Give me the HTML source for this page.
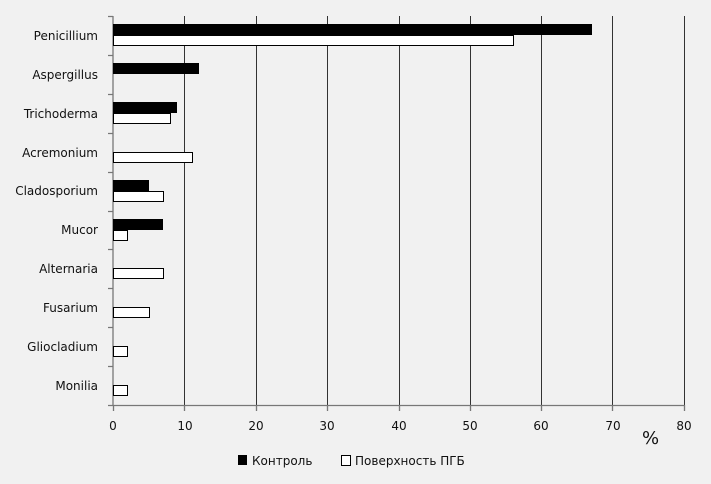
<!DOCTYPE html><html><head><style>body{margin:0;background:#f1f1f1}svg{display:block}text{font-family:"DejaVu Sans","Liberation Sans",sans-serif;font-size:12px;fill:#111}</style></head><body>
<svg width="711" height="484" viewBox="0 0 711 484">
<rect width="711" height="484" fill="#f1f1f1"/>
<g stroke="#333" stroke-width="1">
<line x1="184.5" y1="16" x2="184.5" y2="405"/><line x1="256.5" y1="16" x2="256.5" y2="405"/><line x1="327.5" y1="16" x2="327.5" y2="405"/><line x1="399.5" y1="16" x2="399.5" y2="405"/><line x1="470.5" y1="16" x2="470.5" y2="405"/><line x1="541.5" y1="16" x2="541.5" y2="405"/><line x1="612.5" y1="16" x2="612.5" y2="405"/><line x1="684.5" y1="16" x2="684.5" y2="405"/>
</g>
<g stroke="#777" stroke-width="1.3">
<line x1="113" y1="16" x2="113" y2="406"/><line x1="113" y1="405.5" x2="685" y2="405.5"/>
<path d="M108 16.5H113M108 55.5H113M108 94.5H113M108 133.5H113M108 172.5H113M108 211.5H113M108 249.5H113M108 288.5H113M108 327.5H113M108 366.5H113M108 405.5H113"/>
<path d="M113.5 405V411M184.5 405V411M256.5 405V411M327.5 405V411M399.5 405V411M470.5 405V411M541.5 405V411M612.5 405V411M684.5 405V411"/>
</g>
<g fill="#000">
<rect x="113" y="24" width="479" height="11"/>
<rect x="113" y="63" width="86" height="11"/>
<rect x="113" y="102" width="64" height="11"/>
<rect x="113" y="180" width="36" height="11"/>
<rect x="113" y="219" width="50" height="11"/>
</g>
<g fill="#fff" stroke="#000" stroke-width="1">
<rect x="113.5" y="35.5" width="400" height="10"/>
<rect x="113.5" y="113.5" width="57" height="10"/>
<rect x="113.5" y="152.5" width="79" height="10"/>
<rect x="113.5" y="191.5" width="50" height="10"/>
<rect x="113.5" y="230.5" width="14" height="10"/>
<rect x="113.5" y="268.5" width="50" height="10"/>
<rect x="113.5" y="307.5" width="36" height="10"/>
<rect x="113.5" y="346.5" width="14" height="10"/>
<rect x="113.5" y="385.5" width="14" height="10"/>
</g>
<g text-anchor="end">
<text x="98" y="40">Penicillium</text><text x="98" y="79">Aspergillus</text><text x="98" y="118">Trichoderma</text><text x="98" y="157">Acremonium</text><text x="98" y="195">Cladosporium</text><text x="98" y="234">Mucor</text><text x="98" y="273">Alternaria</text><text x="98" y="312">Fusarium</text><text x="98" y="351">Gliocladium</text><text x="98" y="390">Monilia</text>
</g>
<g text-anchor="middle">
<text x="113" y="430">0</text><text x="185" y="430">10</text><text x="256" y="430">20</text><text x="327" y="430">30</text><text x="399" y="430">40</text><text x="470" y="430">50</text><text x="541" y="430">60</text><text x="613" y="430">70</text><text x="684" y="430">80</text>
</g>
<text x="642" y="444" style="font-size:18px">%</text>
<rect x="238" y="455" width="9" height="10" fill="#000"/>
<text x="252" y="465">Контроль</text>
<rect x="341.5" y="455.5" width="9" height="10" fill="#fff" stroke="#000"/>
<text x="355" y="465">Поверхность ПГБ</text>
</svg></body></html>
